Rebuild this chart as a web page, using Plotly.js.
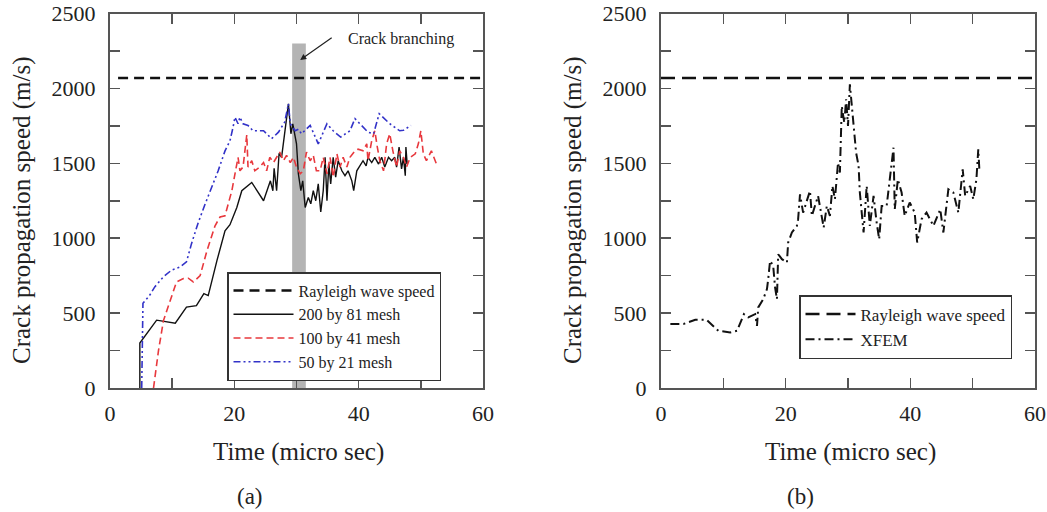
<!DOCTYPE html>
<html><head><meta charset="utf-8">
<script src="https://cdn.plot.ly/plotly-3.0.1.min.js"></script>
<style>html,body{margin:0;padding:0;background:#fff}</style>
</head><body>
<div id="chart" style="width:1047px;height:512px"></div>
<script>
const rayleighSpeed = 2070;
const rayleighA_t = [1.3, 60];
const rayleighB_t = [0, 60];
const branchBand = [29.3, 31.5];
const branchTop = 2300;

const black_t = [4.8,4.8,7.5,10.5,12.3,13.9,15.1,15.8,17.2,18.5,19.3,20.4,21.2,22.8,24.7,25.8,26.2,26.4,26.8,27.2,27.6,28.1,28.7,29.1,29.4,29.8,30.0,30.3,30.7,31.0,31.4,31.9,32.3,32.7,33.1,33.5,33.9,34.3,34.6,34.9,35.2,35.5,35.9,36.3,36.7,37.3,37.8,38.3,38.9,39.2,39.7,40.7,41.2,41.5,42.1,42.6,43.2,43.7,44.2,44.8,45.3,45.8,46.1,46.5,46.9,47.2,47.5,47.6,47.8];
const black_v = [0,300,453,433,540,550,630,617,850,1050,1090,1205,1317,1372,1250,1383,1317,1467,1317,1567,1540,1697,1897,1697,1763,1675,1630,1430,1317,1383,1205,1272,1230,1317,1250,1363,1175,1317,1540,1250,1497,1363,1540,1408,1517,1450,1417,1450,1383,1317,1450,1517,1483,1540,1505,1540,1495,1540,1475,1540,1517,1540,1475,1608,1463,1540,1417,1608,1495];

const red_t = [7.0,7.8,8.6,9.7,10.7,11.8,12.6,13.4,14.5,15.6,16.9,17.7,18.5,19.6,20.6,20.9,21.4,22.0,22.2,22.8,23.3,24.1,24.7,25.2,25.7,26.3,26.8,27.3,27.9,28.4,29.0,29.5,30.0,30.6,31.1,31.6,32.2,32.7,33.2,33.8,34.3,34.9,35.4,35.9,36.5,37.0,37.5,38.1,38.6,39.4,39.9,40.7,41.3,41.5,42.1,42.6,43.0,43.4,44.0,44.5,45.0,45.5,46.1,46.6,47.2,47.7,48.3,49.1,49.6,50.0,50.4,50.9,51.7,52.5];
const red_v = [0,250,450,583,708,730,733,708,750,917,1083,1142,1150,1317,1540,1450,1475,1690,1475,1517,1450,1475,1505,1450,1540,1505,1540,1575,1517,1553,1505,1540,1475,1430,1450,1575,1517,1553,1450,1450,1540,1430,1540,1408,1563,1475,1540,1475,1540,1583,1594,1583,1630,1517,1650,1717,1608,1517,1450,1630,1697,1583,1475,1583,1540,1475,1540,1563,1630,1717,1563,1517,1583,1497];

const blue_t = [5.1,5.3,6.4,7.2,8.6,9.9,11.3,12.3,13.1,14.2,15.3,16.4,17.4,18.5,19.3,19.8,20.1,20.6,20.9,21.4,22.2,23.0,24.7,26.0,27.1,28.1,28.7,29.0,29.8,30.3,30.8,32.2,33.5,34.9,35.9,37.1,38.6,39.4,41.5,42.4,43.3,45.0,46.6,47.2,48.4];
const blue_v = [0,565,620,675,742,787,808,842,962,1105,1228,1339,1450,1583,1650,1742,1808,1764,1808,1764,1753,1717,1717,1664,1708,1775,1897,1764,1717,1728,1697,1753,1630,1764,1717,1675,1717,1798,1708,1697,1831,1764,1717,1720,1753];

const xfem_t = [1.5,3.6,5.5,7.3,9.2,11.1,12.2,12.9,13.3,14.0,15.1,15.4,15.6,16.4,17.0,17.2,17.5,18.0,18.3,18.6,18.8,19.4,20.2,20.4,21.0,21.8,22.0,22.3,22.8,23.9,24.2,25.2,26.1,26.6,27.1,27.5,27.9,28.4,28.7,29.0,29.4,29.7,30.0,30.3,30.9,31.3,31.7,31.9,32.5,33.0,33.5,34.1,34.6,35.0,35.4,36.2,36.7,37.3,37.5,38.0,38.6,39.1,39.9,40.7,41.1,41.8,42.6,43.7,44.8,45.3,46.1,46.9,47.7,48.4,48.8,49.6,50.1,50.6,50.9,51.1];
const xfem_v = [427,427,455,455,382,371,382,460,493,471,493,415,538,593,660,727,849,815,671,593,893,860,838,971,1038,1082,1127,1293,1171,1316,1149,1282,1071,1215,1149,1349,1260,1504,1438,1882,1771,1927,1749,2027,1738,1571,1482,1305,1038,1349,1082,1282,1104,993,1215,1215,1393,1604,1193,1393,1305,1149,1238,1171,971,1127,1171,1082,1193,1038,1327,1305,1171,1460,1282,1349,1260,1393,1593,1438];

const names = ['Rayleigh wave speed','200 by 81 mesh','100 by 41 mesh','50 by 21 mesh','XFEM'];
const xTickVals = [0,20,40,60];
const yTickVals = [0,500,1000,1500,2000,2500];
const yTitle = 'Crack propagation speed (m/s)';
const xTitle = 'Time (micro sec)';
const panelLabels = ['(a)','(b)'];

const FONT = 'Liberation Serif, Times New Roman, serif';
const AX = '#555';

const traces = [
  {x: rayleighA_t, y: rayleighA_t.map(()=>rayleighSpeed), xaxis:'x', yaxis:'y', mode:'lines', name:names[0],
   line:{color:'#111', width:2.5, dash:'10px,6px'}, legend:'legend'},
  {x: black_t, y: black_v, xaxis:'x', yaxis:'y', mode:'lines', name:names[1],
   line:{color:'#111', width:1.4}, legend:'legend'},
  {x: red_t, y: red_v, xaxis:'x', yaxis:'y', mode:'lines', name:names[2],
   line:{color:'#e8383d', width:1.6, dash:'7px,4px'}, legend:'legend'},
  {x: blue_t, y: blue_v, xaxis:'x', yaxis:'y', mode:'lines', name:names[3],
   line:{color:'#3232c8', width:1.6, dash:'7px,3px,2px,3px,2px,3px'}, legend:'legend'},
  {x: rayleighB_t, y: rayleighB_t.map(()=>rayleighSpeed), xaxis:'x2', yaxis:'y2', mode:'lines', name:names[0],
   line:{color:'#111', width:2.5, dash:'14px,7px'}, legend:'legend2'},
  {x: xfem_t, y: xfem_v, xaxis:'x2', yaxis:'y2', mode:'lines', name:names[4],
   line:{color:'#111', width:2, dash:'9px,4px,2px,4px'}, legend:'legend2'}
];

function xax(domain, anchor){
  return {domain:domain, anchor:anchor, range:[0,60], tickvals:xTickVals, ticks:'inside', ticklen:10, tickwidth:1.5,
    tickcolor:AX, showline:true, linecolor:AX, linewidth:2, mirror:'ticks', showgrid:false, zeroline:false,
    tickfont:{family:FONT, size:22, color:'#222'}, ticklabelstandoff:5,
    minor:{dtick:10, tick0:0, ticks:'inside', ticklen:10, tickwidth:1.5, tickcolor:AX, showgrid:false}};
}
function yax(domain, anchor){
  return {domain:domain, anchor:anchor, range:[0,2500], tickvals:yTickVals, ticks:'inside', ticklen:10, tickwidth:1.5,
    tickcolor:AX, showline:true, linecolor:AX, linewidth:2, mirror:'ticks', showgrid:false, zeroline:false,
    tickfont:{family:FONT, size:22, color:'#222'}, ticklabelstandoff:8,
    minor:{dtick:250, tick0:0, ticks:'inside', ticklen:10, tickwidth:1.5, tickcolor:AX, showgrid:false}};
}
const ydom = [1-388/512, 1-13.5/512];
function ann(x, y, text, size, angle){
  return {xref:'paper', yref:'paper', x:x/1047, y:1-y/512, xanchor:'center', yanchor:'middle', text:text,
    textangle:angle||0, showarrow:false, font:{family:FONT, size:size, color:'#222'}};
}
const layout = {
  width:1047, height:512, margin:{l:0,r:0,t:0,b:0}, paper_bgcolor:'#fff', plot_bgcolor:'#fff',
  showlegend:true,
  xaxis: xax([110/1047, 483/1047], 'y'),
  yaxis: yax(ydom, 'x'),
  xaxis2: xax([661/1047, 1035/1047], 'y2'),
  yaxis2: yax(ydom, 'x2'),
  shapes:[{type:'rect', xref:'x', yref:'y', x0:branchBand[0], x1:branchBand[1], y0:0, y1:branchTop,
    fillcolor:'#b4b4b4', line:{width:0}, layer:'below'}],
  legend:{x:227/1047, y:1-272/512, xanchor:'left', yanchor:'top', bgcolor:'#fff', bordercolor:'#333', borderwidth:1.5,
    font:{family:FONT, size:16, color:'#222'}, itemwidth:60, tracegroupgap:0},
  legend2:{x:799/1047, y:1-295/512, xanchor:'left', yanchor:'top', bgcolor:'#fff', bordercolor:'#333', borderwidth:1.5,
    font:{family:FONT, size:17, color:'#222'}, itemwidth:50, tracegroupgap:0},
  annotations:[
    {xref:'x', yref:'y', x:30.6, y:2190, ax:35.9, ay:2345, axref:'x', ayref:'y', text:'', showarrow:true,
     arrowhead:2, arrowsize:1, arrowwidth:1.2, arrowcolor:'#222'},
    {xref:'x', yref:'y', x:46.8, y:2333, text:'Crack branching', showarrow:false, font:{family:FONT, size:16, color:'#222'}},
    ann(22, 210, yTitle, 25, -90),
    ann(573, 210, yTitle, 25, -90),
    ann(298, 452, xTitle, 25),
    ann(850, 452, xTitle, 25),
    ann(250, 496, panelLabels[0], 23),
    ann(800, 496, panelLabels[1], 23)
  ]
};
Plotly.newPlot('chart', traces, layout, {displayModeBar:false, staticPlot:true});
</script>
</body></html>
